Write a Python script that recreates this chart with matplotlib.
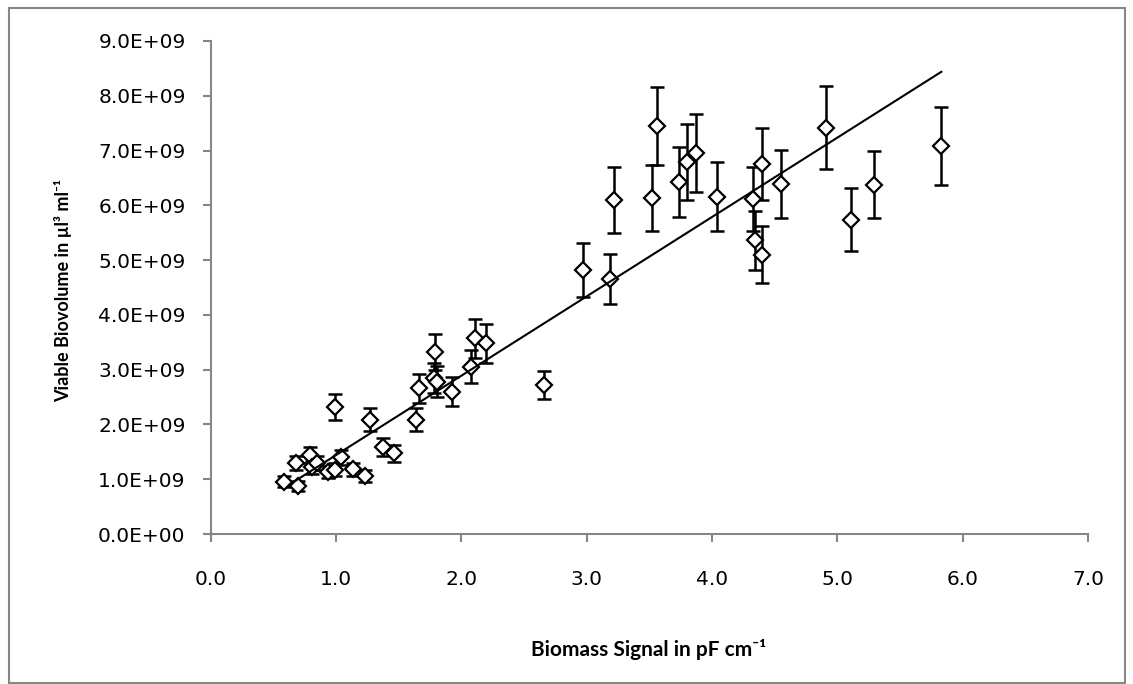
import matplotlib
matplotlib.use("Agg")
import matplotlib.pyplot as plt
import numpy as np
from matplotlib.patches import Rectangle
from matplotlib.ticker import FuncFormatter

# Biomass signal (pF/cm)
biomass = [0.59, 0.70, 0.68, 0.79, 0.81, 0.85, 0.94, 0.99, 1.04, 1.14, 1.23,
           0.99, 1.27, 1.38, 1.46, 1.64, 1.66, 1.78, 1.81, 1.79, 1.93, 2.08,
           2.11, 2.20, 2.66, 2.97, 3.19, 3.22, 3.52, 3.56, 3.74, 3.80, 3.87,
           4.04, 4.33, 4.34, 4.40, 4.40, 4.55, 4.91, 5.11, 5.29, 5.83]
# Viable biovolume (x1e9 µl³/ml)
biovolume = [0.95, 0.88, 1.30, 1.44, 1.22, 1.29, 1.14, 1.17, 1.40, 1.18, 1.06,
             2.32, 2.09, 1.59, 1.47, 2.09, 2.66, 2.85, 2.78, 3.33, 2.60, 3.05,
             3.57, 3.48, 2.72, 4.82, 4.66, 6.10, 6.14, 7.45, 6.43, 6.79, 6.95,
             6.16, 6.12, 5.36, 6.76, 5.10, 6.39, 7.42, 5.74, 6.38, 7.08]
# Error (x1e9)
errors = [0.10, 0.09, 0.13, 0.14, 0.12, 0.13, 0.11, 0.12, 0.14, 0.12, 0.11,
          0.24, 0.21, 0.16, 0.15, 0.21, 0.27, 0.28, 0.28, 0.33, 0.26, 0.30,
          0.36, 0.35, 0.26, 0.50, 0.46, 0.60, 0.60, 0.71, 0.64, 0.69, 0.71,
          0.63, 0.58, 0.54, 0.66, 0.52, 0.62, 0.75, 0.58, 0.62, 0.71]
# Linear trendline (x1e9 per pF/cm), drawn over this x span
trend_slope = 1.449
trend_intercept = -0.01
trend_x = [0.68, 5.83]

x_ticks = [0, 1, 2, 3, 4, 5, 6, 7]
y_ticks = [0, 1, 2, 3, 4, 5, 6, 7, 8, 9]

W, H = 1133, 684
fig = plt.figure(figsize=(W / 100, H / 100), dpi=100)
# plot area: x 210.5..1088 px, y 41..534 px (from top)
ax = fig.add_axes([210.5 / W, 1 - 534 / H, (1088 - 210.5) / W, (534 - 41) / H])

scale = 1e9
x = np.array(biomass)
y = np.array(biovolume) * scale
e = np.array(errors) * scale

ax.errorbar(x, y, yerr=e, fmt='none', ecolor='black', elinewidth=1.8,
            capsize=4.8, capthick=1.8, zorder=2)
ax.plot(x, y, linestyle='none', marker='D', markersize=8.3,
        markerfacecolor='white', markeredgecolor='black', markeredgewidth=1.6,
        zorder=3)

tx = np.array(trend_x)
ax.plot(tx, (trend_slope * tx + trend_intercept) * scale, color='black',
        linewidth=1.5, zorder=4)

ax.set_xlim(0, 7)
ax.set_ylim(0, 9 * scale)
ax.set_xticks(x_ticks)
ax.set_yticks([v * scale for v in y_ticks])
ax.xaxis.set_major_formatter(FuncFormatter(lambda v, p: f"{v:.1f}"))

def sci(v, p):
    if v == 0:
        return "0.0E+00"
    exp = int(np.floor(np.log10(abs(v))))
    mant = v / 10 ** exp
    return f"{mant:.1f}E+{exp:02d}"

ax.yaxis.set_major_formatter(FuncFormatter(sci))

for s in ['top', 'right']:
    ax.spines[s].set_visible(False)
for s in ['left', 'bottom']:
    ax.spines[s].set_color('#868686')
    ax.spines[s].set_linewidth(1.5)
ax.tick_params(axis='both', direction='out', length=6, width=1.5,
               color='#868686', labelsize=14.5, labelcolor='black')
ax.tick_params(axis='x', pad=20)
ax.tick_params(axis='y', pad=12)
for lab in ax.get_xticklabels() + ax.get_yticklabels():
    lab.set_family(['DejaVu Sans'])

ax.set_xlabel('Biomass Signal in pF cm\u207b\u00b9', fontsize=15,
              fontweight='bold', family=['Lato', 'DejaVu Sans'])
ax.set_ylabel('Viable Biovolume in \u00b5l\u00b3 ml\u207b\u00b9', fontsize=13,
              fontweight='bold', family=['Lato', 'DejaVu Sans'])
ax.xaxis.set_label_coords((649 - 210.5) / (1088 - 210.5), (534 - 649) / (534 - 41))
ax.xaxis.label.set_va('center')
ax.yaxis.set_label_coords((63 - 210.5) / (1088 - 210.5), (534 - 290) / (534 - 41))
ax.yaxis.label.set_va('center')
ax.yaxis.label.set_ha('center')

fig.patches.append(Rectangle((8.5 / W, 1.0 / H), (1125 - 8.5) / W, (676 - 1.0) / H,
                             transform=fig.transFigure, fill=False,
                             edgecolor='#868686', linewidth=1.5))

fig.savefig('out.png', dpi=100)
